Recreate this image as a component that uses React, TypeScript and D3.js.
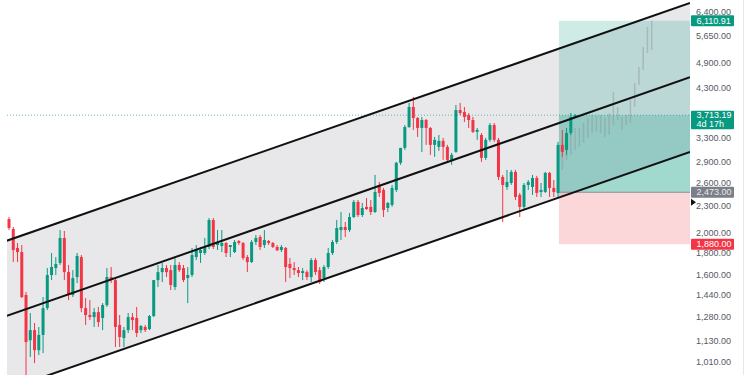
import React from "react";
import * as d3 from "d3";

// ---- Candles (index 0..133) ----
const OPEN = [2147,2037,1843,1804,1438,1133,1195,1075,1165,1342,
1598,1658,1703,1943,1623,1438,1581,1757,1342,1294,
1280,1314,1274,1364,1581,1556,1228,1146,1195,1280,
1274,1195,1215,1201,1287,1556,1623,1658,1640,1500,
1685,1658,1573,1598,1757,1795,1795,1853,2136,1872,
1862,1892,1853,1804,1912,1892,1757,1711,1902,1953,
1872,1912,1892,1853,1823,1843,1694,1658,1640,1615,
1623,1581,1729,1640,1573,1667,1795,1902,2026,2059,
2026,2170,2350,2193,2289,2289,2228,2570,2503,2276,
2313,2503,2888,3125,3489,3878,3658,3472,3620,3471,
3175,3142,3243,3142,2933,3060,3816,3776,3716,3620,
3400,3345,2965,3260,3525,3260,2681,2543,2597,2753,
2438,2289,2570,2543,2667,2477,2477,2739,2530,2464,
3175,3092,3381,3678];
const HIGH = [2170,2059,1892,1872,1461,1308,1241,1215,1423,1658,
1795,1757,2026,2016,1685,1640,1795,1776,1415,1400,
1342,1350,1378,1658,1667,1573,1294,1215,1308,1308,
1350,1228,1228,1294,1556,1685,1703,1685,1685,1748,
1711,1685,1667,1843,1872,1853,1943,2159,2159,2026,
2026,1902,1872,1922,1922,1902,1776,1922,1974,1974,
2026,1922,1902,1872,1872,1853,1748,1711,1667,1658,
1640,1748,1748,1667,1685,1843,1922,2136,2228,2114,
2217,2374,2374,2337,2398,2374,2710,2611,2530,2350,
2570,2903,3125,3525,3962,4089,3677,3677,3640,3489,
3311,3345,3294,3175,3044,3920,3962,3878,3756,3678,
3471,3381,3294,3563,3563,3294,2710,2782,2782,2782,
2464,2597,2638,2710,2696,2597,2753,2753,2638,3226,
3436,3471,3756,3736];
const LOW = [2026,1711,1711,1415,943,1037,1004,1048,1059,1328,
1556,1598,1685,1556,1400,1423,1532,1314,1228,1260,
1215,1215,1195,1350,1532,1093,1093,1093,1177,1195,
1152,1177,1183,1195,1280,1500,1540,1581,1476,1476,
1623,1540,1378,1581,1729,1703,1776,1833,1833,1823,
1804,1757,1757,1795,1872,1729,1623,1703,1872,1823,
1843,1872,1843,1815,1804,1540,1573,1598,1581,1556,
1556,1540,1598,1524,1540,1649,1776,1882,1922,1953,
2005,2159,2170,2170,2252,2193,2217,2412,2170,2228,
2289,2477,2857,3092,3472,3436,3311,3060,3175,3012,
2980,3076,2933,2903,2857,3044,3716,3582,3471,3381,
3260,2903,2933,3226,3226,2638,2114,2503,2570,2374,
2170,2252,2503,2438,2412,2412,2464,2412,2412,2412,
2980,3012,3345,3658];
const CLOSE = [2048,1823,1804,1423,1122,1195,1075,1165,1342,1598,
1667,1694,1943,1623,1438,1573,1767,1342,1294,1280,
1314,1247,1364,1581,1556,1215,1152,1195,1280,1260,
1177,1221,1195,1287,1556,1623,1658,1623,1516,1685,
1640,1556,1598,1776,1823,1823,1853,2136,1853,1902,
1892,1795,1872,1902,1892,1748,1711,1902,1943,1853,
1922,1892,1853,1820,1853,1667,1658,1640,1615,1632,
1581,1729,1623,1540,1667,1795,1902,2048,2059,2026,
2170,2350,2193,2276,2264,2228,2477,2464,2252,2337,
2530,2888,3125,3489,3878,3658,3472,3620,3472,3175,
3260,3243,3142,2933,3012,3816,3756,3678,3620,3400,
3436,2965,3260,3525,3260,2681,2570,2611,2753,2412,
2289,2570,2611,2667,2464,2503,2739,2530,2477,3175,
3060,3381,3678,3713.19];

// ---- Projected (ghost) bars ----
const GHOST_START = 130;
const GHOST_HIGH = [3260,3381,3436,3471,3471,3563,3658,3716,3697,3716,3678,3756,4197,3878,3678,3716,4025,4401,4788,5321,5913,6111];
const GHOST_LOW = [2782,2933,3012,3092,3142,3209,3294,3381,3400,3381,3311,3345,3525,3620,3436,3525,3563,3878,4355,4713,5156,5238];

// ---- Parallel channel anchors ----
const CHANNEL_IDX = [-0.5, 160];
const CHANNEL_TOP = [1915, 6711];
const CHANNEL_MID = [1288, 4535];
const CHANNEL_BOT = [873, 3059];

// ---- Long position ----
const POS_START = 129.2;
const POS_END = 160;
const ENTRY = 2473;
const TARGET = 6110.91;
const STOP = 1880;
const LAST = 3713.19;

// ---- Axis ----
const TICKS = [6400, 5650, 4900, 4300, 3300, 2900, 2600, 2300, 2000, 1800, 1600, 1440, 1280, 1130, 1010];

const W = 750, H = 375;
const GREEN = "#089981", RED = "#f23645";
const FONT = "'Liberation Sans', Arial, sans-serif";
const fmt = d3.format(",.2f");

export default function App() {
  const x = d3.scaleLinear().domain([0, 160]).range([9, 690]);
  const y = d3.scaleLog().domain([1010, 6400]).range([362, 12]);
  const plotL = 7, plotR = 690;

  const line = d3.line<[number, number]>().x(d => x(d[0])).y(d => y(d[1]));
  const chan = (arr: number[]) => line([[CHANNEL_IDX[0], arr[0]], [CHANNEL_IDX[1], arr[1]]]) as string;
  const fillPath =
    `M${x(CHANNEL_IDX[0])},${y(CHANNEL_TOP[0])}L${x(CHANNEL_IDX[1])},${y(CHANNEL_TOP[1])}` +
    `L${x(CHANNEL_IDX[1])},${y(CHANNEL_BOT[1])}L${x(CHANNEL_IDX[0])},${y(CHANNEL_BOT[0])}Z`;

  const bx0 = x(POS_START), bx1 = x(POS_END);
  const bw = 3;

  const label = (v: number, bg: string, txt: string, fg = "#fff") => {
    const cy = y(v);
    return (
      <g key={txt + v}>
        <rect x={691} y={cy - 5.5} width={43} height={11} fill={bg} rx={1} />
        <text x={696.5} y={cy + 3.2} fontSize={9} fill={fg} fontFamily={FONT}>{txt}</text>
      </g>
    );
  };

  return (
    <div style={{ position: "fixed", left: 0, top: 0 }}>
      <svg width={W} height={H} style={{ display: "block", background: "#fff" }}>
        <defs>
          <clipPath id="plot"><rect x={plotL} y={0} width={plotR - plotL} height={H} /></clipPath>
        </defs>
        <g clipPath="url(#plot)">
          <path d={fillPath} fill="#e8e8eb" />
          {/* position box */}
          <rect x={bx0} y={y(TARGET)} width={bx1 - bx0} height={y(ENTRY) - y(TARGET)} fill="rgba(8,153,129,0.2)" />
          <rect x={bx0} y={y(LAST)} width={bx1 - bx0} height={y(ENTRY) - y(LAST)} fill="rgba(8,153,129,0.22)" />
          <rect x={bx0} y={y(ENTRY)} width={bx1 - bx0} height={y(STOP) - y(ENTRY)} fill="rgba(242,54,69,0.2)" />
          <line x1={bx0} x2={bx1} y1={y(ENTRY)} y2={y(ENTRY)} stroke="#8a8d96" strokeWidth={1} />
          {/* last price line */}
          <line x1={plotL} x2={plotR} y1={y(LAST)} y2={y(LAST)} stroke={GREEN} strokeWidth={1} strokeDasharray="1 2" opacity={0.6} />
          {/* ghost bars */}
          {GHOST_HIGH.map((h, k) => (
            <rect key={"g" + k} x={x(GHOST_START + k) - 0.75} y={y(h)} width={1.5} height={y(GHOST_LOW[k]) - y(h)} fill="#8f959c" opacity={0.45} />
          ))}
          {/* candles */}
          {OPEN.map((o, i) => {
            const c = CLOSE[i];
            const col = c >= o ? GREEN : RED;
            const cx = x(i);
            const top = y(Math.max(o, c));
            const bot = y(Math.min(o, c));
            return (
              <g key={i}>
                <line x1={cx} x2={cx} y1={y(HIGH[i])} y2={y(LOW[i])} stroke={col} strokeWidth={1} />
                <rect x={cx - bw / 2} y={top} width={bw} height={Math.max(1, bot - top)} fill={col} />
              </g>
            );
          })}
          {/* channel lines */}
          <path d={chan(CHANNEL_TOP)} stroke="#111" strokeWidth={2} fill="none" />
          <path d={chan(CHANNEL_MID)} stroke="#111" strokeWidth={2} fill="none" />
          <path d={chan(CHANNEL_BOT)} stroke="#111" strokeWidth={2} fill="none" />
        </g>
        {/* right axis */}
        <line x1={743.5} x2={743.5} y1={0} y2={H} stroke="#e6e7ea" strokeWidth={1} />
        {TICKS.map(t => (
          <text key={t} x={696} y={y(t) + 3.2} fontSize={9} fill="#555a64" fontFamily={FONT}>{fmt(t)}</text>
        ))}
        {label(TARGET, GREEN, fmt(TARGET))}
        <g>
          <rect x={691} y={y(LAST) - 4.5} width={43} height={18.5} fill={GREEN} rx={1} />
          <text x={696.5} y={y(LAST) + 3.2} fontSize={9} fill="#fff" fontFamily={FONT}>{fmt(LAST)}</text>
          <text x={696.5} y={y(LAST) + 12} fontSize={9} fill="#fff" fontFamily={FONT}>4d 17h</text>
        </g>
        {label(ENTRY, "#7c7f88", fmt(ENTRY), "#e8e8ea")}
        {label(STOP, RED, fmt(STOP))}
        <path d={`M691,${y(ENTRY) + 6.5}L696,${y(ENTRY) + 10}L691,${y(ENTRY) + 13.5}Z`} fill="#111" />
      </svg>
    </div>
  );
}
